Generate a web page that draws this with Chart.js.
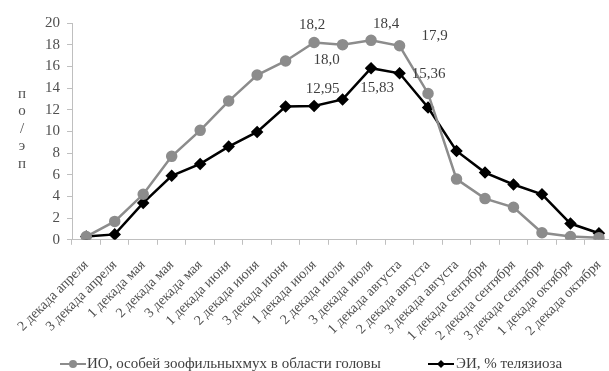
<!DOCTYPE html>
<html lang="ru">
  <head>
    <meta charset="UTF-8" />
    <title>ИО / ЭИ</title>
    <script src="https://cdn.jsdelivr.net/npm/chart.js"></script>
    <style>
      html, body {
        margin: 0;
        padding: 0;
        background: #ffffff;
        overflow: hidden;
      }
      .chart-box {
        width: 623px;
        height: 371px;
        position: relative;
      }
    </style>
  </head>
  <body>
    <div class="chart-box">
      <canvas id="chart"></canvas>
    </div>

    <script>
      const periods = [
        "2 декада апреля", "3 декада апреля", "1 декада мая", "2 декада мая",
        "3 декада мая", "1 декада июня", "2 декада июня", "3 декада июня",
        "1 декада июля", "2 декада июля", "3 декада июля", "1 декада августа",
        "2 декада августа", "3 декада августа", "1 декада сентября",
        "2 декада сентября", "3 декада сентября", "1 декада октября",
        "2 декада октября"
      ];
      const ioValues = [0.3, 1.7, 4.2, 7.7, 10.1, 12.8, 15.2, 16.5, 18.2, 18.0,
        18.4, 17.9, 13.5, 5.6, 3.8, 3.0, 0.65, 0.3, 0.2];
      const eiValues = [0.3, 0.5, 3.4, 5.9, 7.0, 8.6, 9.95, 12.3, 12.35, 12.95,
        15.83, 15.36, 12.2, 8.2, 6.2, 5.1, 4.2, 1.5, 0.6];
      const yTicks = [0, 2, 4, 6, 8, 10, 12, 14, 16, 18, 20];
      const seriesNames = ["ИО, особей зоофильныхмух в области головы", "ЭИ, % телязиоза"];
      const axisLetters = ["п", "о", "/", "э", "п"];

      // labelled points: [dataset, index, text, dx, dy]
      const pointNotes = [
        [0, 8, "18,2", -2, -17],
        [0, 9, "18,0", -16, 15],
        [0, 10, "18,4", 15, -16],
        [0, 11, "17,9", 35, -10],
        [1, 9, "12,95", -20, -10],
        [1, 10, "15,83", 6, 20],
        [1, 11, "15,36", 29, 1]
      ];

      const serif = "'Liberation Serif', 'Times New Roman', serif";
      const textColor = "#505050";
      const grayColor = "#8c8c8c";

      function legendMark(color, style) {
        const c = document.createElement("canvas");
        c.width = 26; c.height = 10;
        const g = c.getContext("2d");
        g.strokeStyle = color; g.lineWidth = 2;
        g.beginPath(); g.moveTo(0, 5); g.lineTo(26, 5); g.stroke();
        g.fillStyle = color;
        g.beginPath();
        if (style === "circle") {
          g.arc(13, 5, 4, 0, Math.PI * 2);
        } else {
          g.moveTo(13, 1); g.lineTo(17, 5); g.lineTo(13, 9); g.lineTo(9, 5);
          g.closePath();
        }
        g.fill();
        return c;
      }

      const extras = {
        id: "extras",
        afterDraw(chart) {
          const ctx = chart.ctx;
          ctx.save();
          ctx.fillStyle = "#404040";
          ctx.font = "15px " + serif;
          ctx.textAlign = "center";
          ctx.textBaseline = "middle";
          pointNotes.forEach(([ds, i, txt, dx, dy]) => {
            const pt = chart.getDatasetMeta(ds).data[i];
            ctx.fillText(txt, pt.x + dx, pt.y + dy);
          });

          // vertical stacked axis title
          ctx.fillStyle = textColor;
          ctx.font = "15px " + serif;
          axisLetters.forEach((ch, k) => {
            ctx.fillText(ch, 22, 94 + k * 17.5);
          });

          // legend
          ctx.font = "15px " + serif;
          ctx.textAlign = "left";
          ctx.fillStyle = "#404040";
          const ly = 364;
          ctx.drawImage(legendMark(grayColor, "circle"), 60, ly - 5);
          ctx.fillText(seriesNames[0], 87, ly);
          ctx.drawImage(legendMark("#000000", "diamond"), 428, ly - 5);
          ctx.fillText(seriesNames[1], 456, ly);
          ctx.restore();
        }
      };

      new Chart(document.getElementById("chart"), {
        type: "line",
        data: {
          labels: periods,
          datasets: [
            {
              label: seriesNames[0],
              data: ioValues,
              borderColor: grayColor,
              backgroundColor: grayColor,
              borderWidth: 2.5,
              pointStyle: "circle",
              pointRadius: 4.5,
              pointHoverRadius: 4.5,
              tension: 0
            },
            {
              label: seriesNames[1],
              data: eiValues,
              borderColor: "#000000",
              backgroundColor: "#000000",
              borderWidth: 2.5,
              pointStyle: "rectRot",
              pointRadius: 4.5,
              pointHoverRadius: 4.5,
              tension: 0
            }
          ]
        },
        options: {
          responsive: true,
          maintainAspectRatio: false,
          animation: false,
          layout: { padding: { top: 23, right: 3, bottom: 15, left: 38 } },
          plugins: {
            legend: { display: false },
            tooltip: { enabled: false }
          },
          scales: {
            x: {
              offset: true,
              grid: {
                display: true,
                offset: true,
                drawOnChartArea: false,
                tickLength: 5,
                color: "#bfbfbf"
              },
              border: { color: "#bfbfbf", width: 1 },
              ticks: {
                minRotation: 45,
                maxRotation: 45,
                autoSkip: false,
                color: textColor,
                font: { family: serif, size: 14 },
                padding: 12
              }
            },
            y: {
              min: 0,
              max: 20,
              afterBuildTicks(scale) {
                scale.ticks = yTicks.map((v) => ({ value: v }));
              },
              grid: {
                display: true,
                drawOnChartArea: false,
                tickLength: 5,
                color: "#bfbfbf"
              },
              border: { color: "#bfbfbf", width: 1 },
              ticks: {
                autoSkip: false,
                color: textColor,
                font: { family: serif, size: 15 },
                padding: 7
              }
            }
          }
        },
        plugins: [extras]
      });
    </script>
  </body>
</html>
